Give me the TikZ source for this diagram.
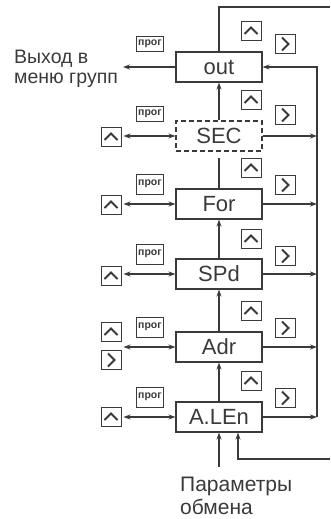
\documentclass[tikz,border=0pt]{standalone}
\usepackage{fontspec}
\setmainfont{Liberation Sans}
\definecolor{linegray}{HTML}{3A3A3A}
\usetikzlibrary{arrows.meta,positioning,calc}

\begin{document}
\begin{tikzpicture}[x=1pt, y=-1pt,
  param/.style={rectangle, draw=linegray, line width=1.1pt, fill=white, minimum width=86pt, minimum height=30pt, inner sep=0pt, text=linegray, font=\fontsize{22}{24}\selectfont},
  optparam/.style={param, dash pattern=on 5pt off 3pt},
  key/.style={rectangle, draw=linegray, line width=0.9pt, fill=white, minimum width=20pt, minimum height=19pt, inner sep=0pt},
  chev/.style={line width=2pt, linegray},
  upkey/.style={key, path picture={\draw[chev] ([xshift=-6.5pt,yshift=-3pt]path picture bounding box.center) -- ++(6.5pt,6.5pt) -- ++(6.5pt,-6.5pt);}},
  rightkey/.style={key, path picture={\draw[chev] ([xshift=-3pt,yshift=6.5pt]path picture bounding box.center) -- ++(6.5pt,-6.5pt) -- ++(-6.5pt,-6.5pt);}},
  progkey/.style={key, minimum width=27pt, minimum height=20pt, text=linegray, font=\bfseries\fontsize{10.5}{11}\selectfont},
  wire/.style={line width=1.2pt, linegray},
  arr/.style={wire, -{Stealth[length=7pt,width=5pt]}},
  darr/.style={wire, {Stealth[length=7pt,width=5pt]}-{Stealth[length=7pt,width=5pt]}},
  lbl/.style={text=linegray, align=left, inner sep=0pt, font=\fontsize{19.5}{20}\selectfont}
]
  \useasboundingbox (0,0) rectangle (330,519);

  % parameters of the group
  \node[param] (out) at (219,67) {out};
  \node[optparam] (sec) at (219,136) {SEC};
  \node[param] (for) at (219,204) {For};
  \node[param] (spd) at (219,274) {SPd};
  \node[param] (adr) at (219,347) {Adr};
  \node[param] (alen) at (219,417) {A.LEn};

  \coordinate (bus) at (317,0);
  \coordinate (topright) at (330,7);
  \coordinate (botright) at (330,459);
  \coordinate (exitpt) at (123,67);

  % texts
  \node[lbl, anchor=west] (exit) at (14,69) {Выход в\\меню групп};
  \node[lbl, anchor=north west, font=\fontsize{21}{23}\selectfont] (params) at (180,477) {Параметры\\обмена};

  % keys
  \node[progkey, minimum height=15pt] (pout) at (150,44) {прог};
  \node[progkey, minimum height=15pt] (psec) at (150,114) {прог};
  \node[progkey] (pfor) at (150,184) {прог};
  \node[progkey] (pspd) at (150,254) {прог};
  \node[progkey] (padr) at (150,327) {прог};
  \node[progkey] (palen) at (150,397) {прог};

  \foreach \n/\y in {out/31, sec/100, for/168, spd/239, adr/311, alen/381}
    \node[upkey] (u\n) at (251,\y) {};
  \foreach \n/\y in {out/44, sec/115, for/185, spd/256, adr/328, alen/398}
    \node[rightkey] (r\n) at (285,\y) {};

  \node[upkey] (lsec) at (111,137) {};
  \node[upkey] (lfor) at (111,205) {};
  \node[upkey] (lspd) at (111,276) {};
  \node[upkey] (ladr) at (111,332) {};
  \node[rightkey] (ladrr) at (111,360) {};
  \node[upkey] (lalen) at (111,417) {};

  % connectors
  \draw[arr] (out.west) -- (exitpt);
  \foreach \n in {sec,for,spd,alen}
    \draw[darr] ([xshift=2pt]l\n.east |- \n.west) -- (\n.west);
  \draw[darr] ([xshift=2pt]ladr.east |- adr.west) -- (adr.west);

  \draw[arr] (sec.north) -- (out.south);
  \draw[wire] (for.north) -- ([yshift=-6pt]sec.south);
  \draw[arr] (spd.north) -- (for.south);
  \draw[arr] (adr.north) -- (spd.south);
  \draw[arr] (alen.north) -- (adr.south);

  \foreach \n in {sec,for,spd,adr,alen}
    \draw[arr] (\n.east) -- (\n.east -| bus);
  \draw[arr] (alen.east -| bus) -- (out.east -| bus) -- (out.east);

  \draw[wire] (out.north) |- (topright);
  \draw[arr] (botright) -| ([xshift=19pt]alen.south);
  \draw[arr] ([yshift=10pt]params.north -| alen.south) -- (alen.south);
\end{tikzpicture}
\end{document}
